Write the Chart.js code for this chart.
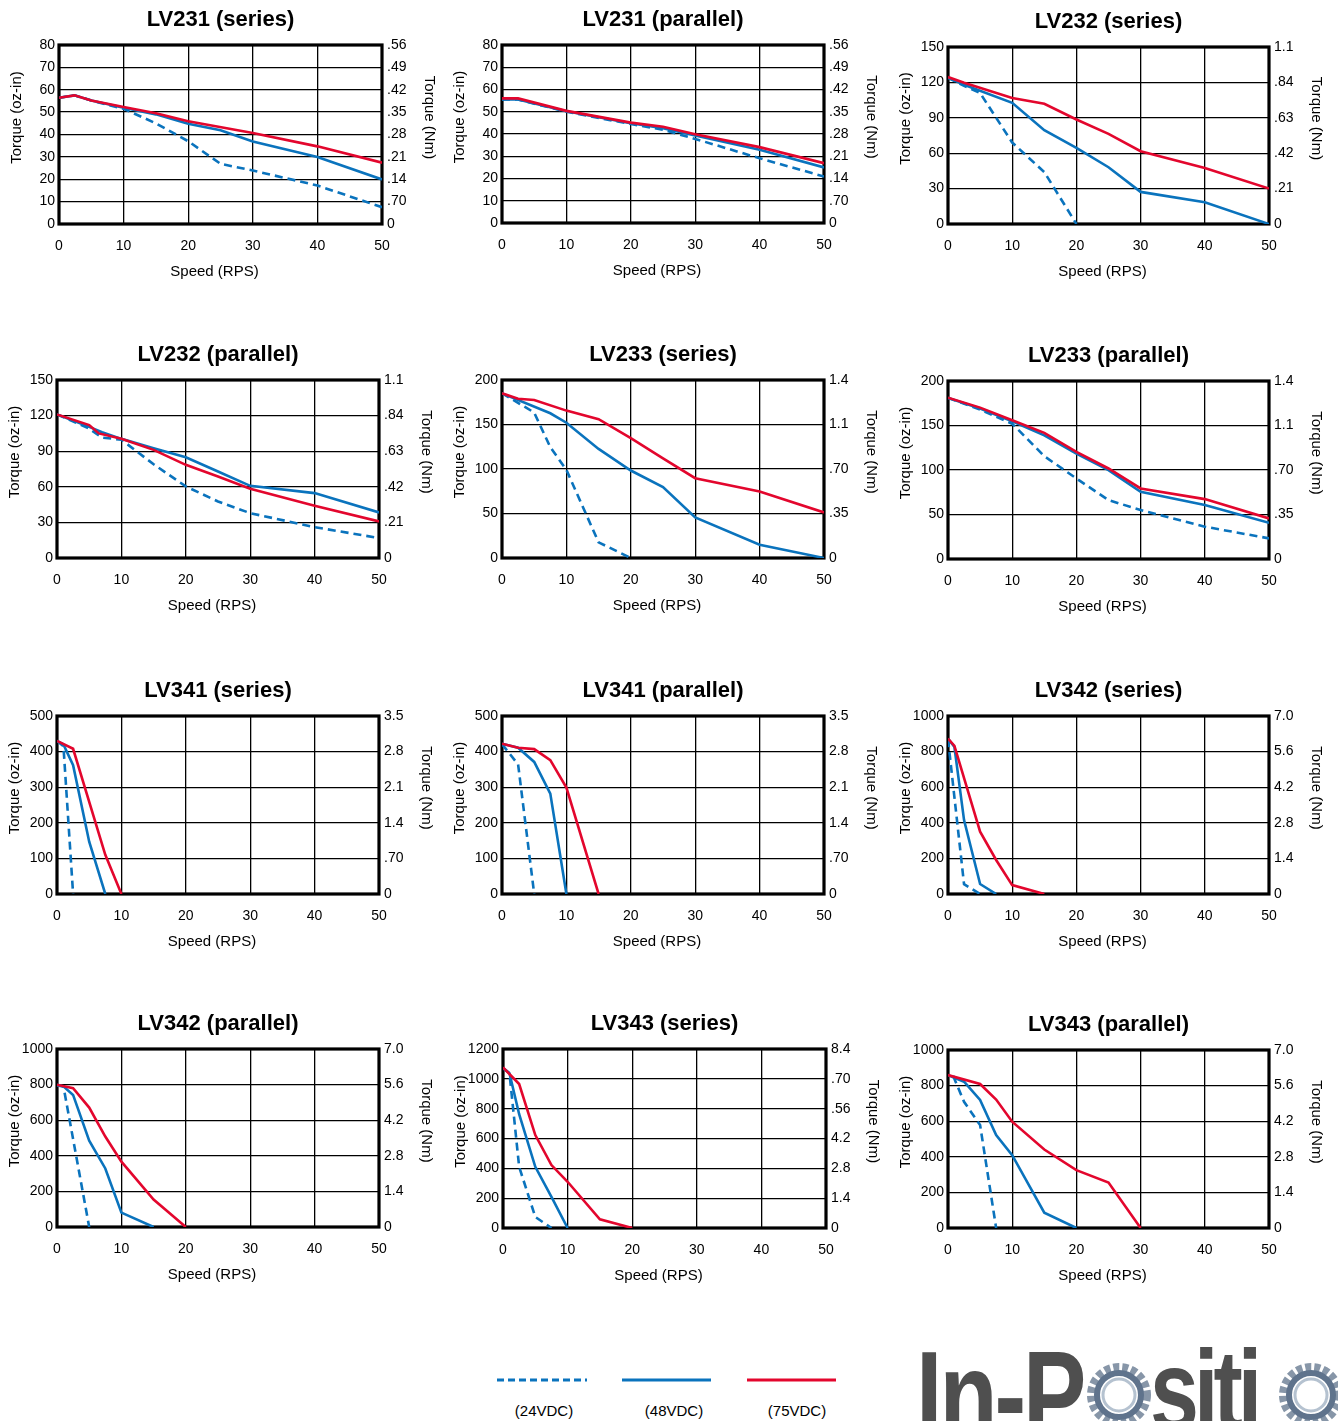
<!DOCTYPE html>
<html>
<head>
<meta charset="utf-8">
<script src="https://cdn.jsdelivr.net/npm/chart.js@4.4.1/dist/chart.umd.min.js"></script>
<style>
html,body{margin:0;padding:0;background:#fff;width:1338px;height:1421px;overflow:hidden;position:relative;font-family:"Liberation Sans",Arial,Helvetica,sans-serif;}
canvas{position:absolute;}
.lg{position:absolute;font-size:15px;color:#000;text-align:center;width:120px;}
.logo{position:absolute;font:bold 95px "Liberation Sans",Arial,sans-serif;color:#4f4f4f;line-height:1;white-space:nowrap;letter-spacing:-3px;transform:scaleY(1.3);transform-origin:top left;}
.gear{position:absolute;}
</style>
</head>
<body>
<script>
// ---------- tick labels ----------
const X_TITLE = 'Speed (RPS)';
const Y_LEFT_TITLE = 'Torque (oz-in)';
const Y_RIGHT_TITLE = 'Torque (Nm)';
const RIGHT_80  = ['.56','.49','.42','.35','.28','.21','.14','.70','0'];
const RIGHT_150 = ['1.1','.84','.63','.42','.21','0'];
const RIGHT_200 = ['1.4','1.1','.70','.35','0'];
const RIGHT_500 = ['3.5','2.8','2.1','1.4','.70','0'];
const RIGHT_1000 = ['7.0','5.6','4.2','2.8','1.4','0'];
const RIGHT_1200 = ['8.4','.70','.56','4.2','2.8','1.4','0'];

// ---------- series values [speed RPS, torque oz-in] ----------
const LV231S_75 = [[0,56.4],[2.4,57.5],[5,55.2],[10,52.3],[15,49.5],[20,45.9],[30,40.7],[40,34.7],[50,27.4]];
const LV231S_48 = [[0,56.4],[2.4,57.5],[5,55.2],[10,52],[15,49],[20,44.8],[25,41.9],[30,36.9],[40,29.9],[50,19.9]];
const LV231S_24 = [[0,56.4],[2.4,57.5],[5,55.2],[10,51.5],[15,45],[20,37],[25,26.9],[30,23.9],[40,17.2],[50,7.5]];

const LV231P_75 = [[0,56],[2.5,56],[10,50.4],[20,45.1],[25,43.3],[30,39.9],[40,34.1],[50,26.9]];
const LV231P_48 = [[0,55.5],[2.5,55.5],[10,50.2],[20,44.8],[25,42.6],[30,39.3],[40,32.9],[50,25]];
const LV231P_24 = [[0,55.5],[2.5,55.5],[10,50],[20,44.5],[25,41.9],[30,37.8],[40,29.1],[50,20.9]];

const LV232S_75 = [[0,124.5],[2.5,119.7],[10,106.7],[15,101.9],[20,88.6],[25,76.4],[30,61.7],[40,47.5],[50,30]];
const LV232S_48 = [[0,124],[2.5,118],[10,102.7],[15,79.5],[20,64.5],[25,48.1],[30,27.2],[40,18.4],[50,0]];
const LV232S_24 = [[0,124],[2.5,117],[5,111],[7.5,90],[10,69],[15,44],[20,0]];

const LV232P_75 = [[0,121],[5,112],[6.5,105],[10,100.4],[15,91.1],[20,78.5],[25,68.7],[30,58.3],[40,44],[50,30.8]];
const LV232P_48 = [[0,121],[5,110.5],[7,106],[10,100.4],[15,92.5],[20,84.9],[25,72.9],[30,60.8],[40,54.7],[50,38.4]];
const LV232P_24 = [[0,121],[5,109],[7,101.5],[10,99.7],[15,79],[20,60.3],[25,47.6],[30,37.8],[40,26],[50,16.8]];

const LV233S_75 = [[0,185],[2.5,179],[5,177.6],[10,165.6],[15,155.9],[20,134.6],[25,112],[30,89.7],[40,74.8],[50,51.2]];
const LV233S_48 = [[0,185],[7.5,162.6],[10,152],[15,122.6],[20,98.3],[25,79.6],[30,45.6],[40,15],[50,0]];
const LV233S_24 = [[0,185],[3.5,170],[5,163.4],[7.5,124.5],[10,99],[15,17.6],[20,0]];

const LV233P_75 = [[0,181.3],[5,170.1],[10,155.9],[15,141.7],[20,120.4],[25,101.7],[30,79.3],[40,67.3],[50,45.6]];
const LV233P_48 = [[0,181],[5,169],[10,154.8],[15,139],[20,118.5],[25,99.8],[30,75.5],[40,60.6],[50,40.7]];
const LV233P_24 = [[0,181],[5,168],[10,152],[15,115.5],[20,90.5],[25,66.2],[30,55],[40,36.3],[50,23.2]];

const LV341S_75 = [[0,430],[2.5,408],[7.5,110],[10,0]];
const LV341S_48 = [[0,430],[1,420],[2.5,362],[5,147],[7.5,0]];
const LV341S_24 = [[0,430],[1,415],[2.5,0]];

const LV341P_75 = [[0,422],[2.5,411],[5,407],[7.5,376],[10,299],[15,0]];
const LV341P_48 = [[0,422],[2.5,411],[5,371],[7.5,282],[10,0]];
const LV341P_24 = [[0,421],[2.5,364],[5,0]];

const LV342S_75 = [[0,873],[1,832],[5,350],[7.5,191],[10,50],[15,0]];
const LV342S_48 = [[0,873],[1,826],[2.5,415],[5,56],[7.5,0]];
const LV342S_24 = [[0,870],[2.5,55],[5,0]];

const LV342P_75 = [[0,799],[2.5,780],[5,671],[7.5,508],[10,367],[15,154],[20,0]];
const LV342P_48 = [[0,799],[1,790],[2.5,742],[5,485],[7.5,329],[10,81],[15,0]];
const LV342P_24 = [[0,795],[1,790],[5,0]];

const LV343S_75 = [[0,1077],[2.5,965],[5,623],[7.5,422],[10,310],[15,58],[20,0]];
const LV343S_48 = [[0,1072],[1,1038],[2.5,763],[5,410],[7.5,209],[10,0]];
const LV343S_24 = [[0,1072],[1,1038],[2.5,410],[5,74],[7.5,0]];

const LV343P_75 = [[0,859],[5,809],[7.5,722],[10,597],[15,441],[20,325],[25,255],[30,0]];
const LV343P_48 = [[0,859],[2.5,822],[5,719],[7.5,522],[10,409],[15,86],[20,0]];
const LV343P_24 = [[0.8,855],[2.5,709],[5,578],[7.5,0]];

// ---------- layout / style ----------
const FONT = '"Liberation Sans", Arial, Helvetica, sans-serif';
const RED = '#e3062d';
const BLUE = '#0a73bd';

const CHARTS = [
  {title:'LV231 (series)',   rect:[59,45,382,224],   yMax:80,   yStep:10,  right:RIGHT_80,   d:[LV231S_75,LV231S_48,LV231S_24]},
  {title:'LV231 (parallel)', rect:[502,45,824,223],  yMax:80,   yStep:10,  right:RIGHT_80,   d:[LV231P_75,LV231P_48,LV231P_24]},
  {title:'LV232 (series)',   rect:[948,47,1269,224], yMax:150,  yStep:30,  right:RIGHT_150,  d:[LV232S_75,LV232S_48,LV232S_24]},
  {title:'LV232 (parallel)', rect:[57,380,379,558],  yMax:150,  yStep:30,  right:RIGHT_150,  d:[LV232P_75,LV232P_48,LV232P_24]},
  {title:'LV233 (series)',   rect:[502,380,824,558], yMax:200,  yStep:50,  right:RIGHT_200,  d:[LV233S_75,LV233S_48,LV233S_24]},
  {title:'LV233 (parallel)', rect:[948,381,1269,559],yMax:200,  yStep:50,  right:RIGHT_200,  d:[LV233P_75,LV233P_48,LV233P_24]},
  {title:'LV341 (series)',   rect:[57,716,379,894],  yMax:500,  yStep:100, right:RIGHT_500,  d:[LV341S_75,LV341S_48,LV341S_24]},
  {title:'LV341 (parallel)', rect:[502,716,824,894], yMax:500,  yStep:100, right:RIGHT_500,  d:[LV341P_75,LV341P_48,LV341P_24]},
  {title:'LV342 (series)',   rect:[948,716,1269,894],yMax:1000, yStep:200, right:RIGHT_1000, d:[LV342S_75,LV342S_48,LV342S_24]},
  {title:'LV342 (parallel)', rect:[57,1049,379,1227],yMax:1000, yStep:200, right:RIGHT_1000, d:[LV342P_75,LV342P_48,LV342P_24]},
  {title:'LV343 (series)',   rect:[503,1049,826,1228],yMax:1200,yStep:200, right:RIGHT_1200, d:[LV343S_75,LV343S_48,LV343S_24]},
  {title:'LV343 (parallel)', rect:[948,1050,1269,1228],yMax:1000,yStep:200, right:RIGHT_1000, d:[LV343P_75,LV343P_48,LV343P_24]}
];

const LEFT_W = 59, RIGHT_W = 64, TOP_H = 45, BOTTOM_H = 66;

const framePlugin = {
  id: 'frame',
  beforeDatasetsDraw(chart) {
    const a = chart.chartArea, ctx = chart.ctx;
    ctx.save();
    ctx.strokeStyle = '#000';
    ctx.lineWidth = 3.2;
    ctx.strokeRect(a.left, a.top, a.right - a.left, a.bottom - a.top);
    ctx.restore();
  }
};

const sideTitles = {
  id: 'sideTitles',
  afterDraw(chart) {
    const a = chart.chartArea, ctx = chart.ctx;
    ctx.save();
    ctx.fillStyle = '#000';
    ctx.font = '15px ' + FONT;
    ctx.textAlign = 'center';
    ctx.textBaseline = 'middle';
    const cy = (a.top + a.bottom) / 2 - 17;
    ctx.save(); ctx.translate(a.left - 42, cy); ctx.rotate(-Math.PI / 2); ctx.fillText(Y_LEFT_TITLE, 0, 0); ctx.restore();
    ctx.save(); ctx.translate(a.right + 47, cy); ctx.rotate(Math.PI / 2); ctx.fillText(Y_RIGHT_TITLE, 0, 0); ctx.restore();
    ctx.fillText(X_TITLE, (a.left + a.right) / 2 - 6, a.bottom + 48);
    ctx.restore();
  }
};

const toXY = arr => arr.map(p => ({x: p[0], y: p[1]}));

function build(c) {
  const [L, T, R, B] = c.rect;
  const W = (R - L) + LEFT_W + RIGHT_W;
  const H = (B - T) + TOP_H + BOTTOM_H;
  const cv = document.createElement('canvas');
  cv.width = W; cv.height = H;
  cv.style.left = (L - LEFT_W) + 'px';
  cv.style.top = (T - TOP_H) + 'px';
  cv.style.width = W + 'px'; cv.style.height = H + 'px';
  document.body.appendChild(cv);
  const tickFont = {family: FONT, size: 14};
  const grid = {color: '#000', lineWidth: 1.3, drawTicks: false};
  new Chart(cv, {
    type: 'line',
    data: {
      datasets: [
        {label: '(75VDC)', data: toXY(c.d[0]), borderColor: RED, borderWidth: 2.6, pointRadius: 0, tension: 0, fill: false},
        {label: '(48VDC)', data: toXY(c.d[1]), borderColor: BLUE, borderWidth: 2.6, pointRadius: 0, tension: 0, fill: false},
        {label: '(24VDC)', data: toXY(c.d[2]), borderColor: BLUE, borderWidth: 2.6, borderDash: [8, 5], pointRadius: 0, tension: 0, fill: false}
      ]
    },
    options: {
      responsive: false, animation: false, devicePixelRatio: 1,
      layout: {padding: 0},
      plugins: {
        legend: {display: false}, tooltip: {enabled: false},
        title: {display: true, text: c.title, fullSize: false, color: '#000',
          font: {family: FONT, size: 22, weight: 'bold', lineHeight: 1.2},
          padding: {top: 7, bottom: 11.6}}
      },
      scales: {
        x: {type: 'linear', position: 'bottom', min: 0, max: 50,
          ticks: {stepSize: 10, color: '#000', font: tickFont, padding: 14, maxRotation: 0, autoSkip: false,
            callback: v => String(v)},
          grid: grid, border: {display: false},
          afterFit(s) { s.height = BOTTOM_H; }},
        y: {position: 'left', min: 0, max: c.yMax,
          ticks: {stepSize: c.yStep, color: '#000', font: tickFont, padding: 4, autoSkip: false,
            callback: v => String(v)},
          grid: grid, border: {display: false},
          afterFit(s) { s.width = LEFT_W; }},
        y2: {position: 'right', min: 0, max: c.yMax,
          ticks: {stepSize: c.yStep, color: '#000', font: tickFont, padding: 5, autoSkip: false,
            callback: (v, i, arr) => c.right[arr.length - 1 - i]},
          grid: {display: false, drawTicks: false}, border: {display: false},
          afterFit(s) { s.width = RIGHT_W; }}
      }
    },
    plugins: [framePlugin, sideTitles]
  });
}

CHARTS.forEach(build);
</script>

<!-- legend -->
<svg style="position:absolute;left:490px;top:1372px" width="360" height="16">
  <line x1="7" y1="8" x2="97" y2="8" stroke="#0a73bd" stroke-width="3" stroke-dasharray="7,4"/>
  <line x1="132" y1="8" x2="221" y2="8" stroke="#0a73bd" stroke-width="3"/>
  <line x1="257" y1="8" x2="346" y2="8" stroke="#e3062d" stroke-width="3"/>
</svg>
<div class="lg" style="left:484px;top:1402px">(24VDC)</div>
<div class="lg" style="left:614px;top:1402px">(48VDC)</div>
<div class="lg" style="left:737px;top:1402px">(75VDC)</div>

<!-- logo -->
<div class="logo" style="left:916px;top:1334px">In-P</div>
<svg class="gear" style="left:1086px;top:1362px" width="66" height="66" viewBox="0 0 66 66">
  <circle cx="33" cy="33" r="28" fill="none" stroke="#8796a8" stroke-width="8" stroke-dasharray="6,3"/>
  <circle cx="33" cy="33" r="22" fill="none" stroke="#5f738c" stroke-width="6"/>
  <circle cx="33" cy="33" r="16" fill="none" stroke="#b5c2d0" stroke-width="3"/>
</svg>
<div class="logo" style="left:1150px;top:1334px;font-size:88px;letter-spacing:-5px">siti</div>
<svg class="gear" style="left:1278px;top:1362px" width="66" height="66" viewBox="0 0 66 66">
  <circle cx="33" cy="33" r="28" fill="none" stroke="#8796a8" stroke-width="8" stroke-dasharray="6,3"/>
  <circle cx="33" cy="33" r="22" fill="none" stroke="#5f738c" stroke-width="6"/>
  <circle cx="33" cy="33" r="16" fill="none" stroke="#b5c2d0" stroke-width="3"/>
</svg>
</body>
</html>
